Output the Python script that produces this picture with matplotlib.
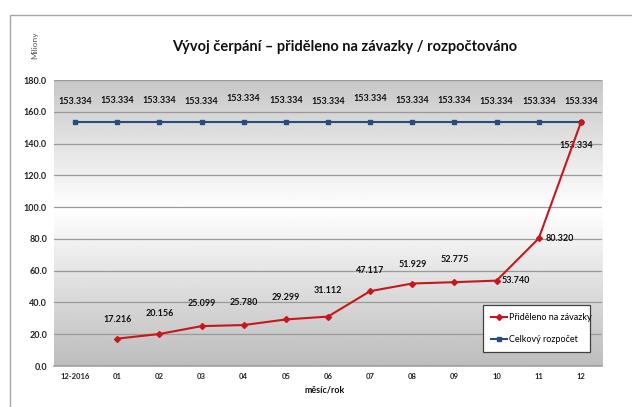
import numpy as np
import matplotlib.pyplot as plt
from matplotlib.patches import Rectangle

# data
months = ['12-2016', '01', '02', '03', '04', '05', '06', '07', '08', '09', '10', '11', '12']
prideleno = [None, 17.216, 20.156, 25.099, 25.780, 29.299, 31.112, 47.117, 51.929, 52.775, 53.740, 80.320, 153.334]
rozpocet = [153.334] * 13
y_ticks = [0, 20, 40, 60, 80, 100, 120, 140, 160, 180]

red = '#c8161d'
blue = '#264d7c'
plt.rcParams['font.family'] = ['Lato', 'DejaVu Sans']

fig = plt.figure(figsize=(6.32, 4.07), dpi=100)
ax = fig.add_axes([0.0854, 0.1007, 0.8671, 0.7027])

# outer chart frame
fig.patches.append(Rectangle((10 / 632, -0.01), 0.99, 1 - 15 / 407 + 0.01, transform=fig.transFigure,
                             fill=False, edgecolor='#a6a6a6', linewidth=1.0))

# gradient background: gray top, white middle, gray bottom
t = np.linspace(0, 1, 256)
shade = np.where(t < 0.55, 0.74 + 0.26 * (t / 0.55), 1.0 - 0.22 * ((t - 0.55) / 0.45))
grad = np.tile(shade[:, None], (1, 2))
ax.imshow(grad, cmap='gray', vmin=0, vmax=1, aspect='auto', extent=[0, 1, 0, 1],
          transform=ax.transAxes, origin='lower', zorder=0)

x = np.arange(len(months))
ax.set_xlim(-0.5, len(months) - 0.5)
ax.set_ylim(0, 180)
ax.set_yticks(y_ticks)
ax.set_yticklabels([f'{v:.1f}' for v in y_ticks], fontsize=6.5, fontweight='bold', color='#222222')
ax.set_xticks(x)
ax.set_xticklabels(months, fontsize=5.5, fontweight='bold', color='#222222')
ax.tick_params(axis='both', length=0, pad=5)
ax.grid(axis='y', color='#9a9a9a', linewidth=0.9)
ax.set_axisbelow(True)
for s in ['top', 'right', 'left']:
    ax.spines[s].set_visible(False)
ax.spines['bottom'].set_color('#a0a0a0')
ax.spines['bottom'].set_linewidth(1.2)

px = [i for i, v in enumerate(prideleno) if v is not None]
pv = [v for v in prideleno if v is not None]
ax.plot(x, rozpocet, color=blue, linewidth=1.5, marker='s', markersize=3.5, zorder=3,
        label='Celkový rozpočet')
ax.plot(px, pv, color=red, linewidth=1.5, marker='D', markersize=3, zorder=4,
        label='Přiděleno na závazky')

# data labels
blue_off = [15, 16, 16, 15, 17, 16, 15, 17, 16, 16, 15, 15, 15]
for i, v in enumerate(rozpocet):
    ax.annotate(f'{v:.3f}', (x[i], v), xytext=(0, blue_off[i]), textcoords='offset points',
                ha='center', va='center', fontsize=6.5, fontweight='bold', color='#111111')

red_off = {1: (0, 14), 2: (0, 15), 3: (0, 16), 4: (0, 16.5), 5: (0, 16), 6: (0, 19), 7: (0, 15),
           8: (0, 14), 9: (0, 16), 10: (14, 0), 11: (15, 0), 12: (-3.5, -17)}
for i, v in zip(px, pv):
    ax.annotate(f'{v:.3f}', (i, v), xytext=red_off[i], textcoords='offset points',
                ha='center', va='center', fontsize=6.5, fontweight='bold', color='#111111')

handles, labels = ax.get_legend_handles_labels()
leg = ax.legend(handles[::-1], labels[::-1], loc='lower left', bbox_to_anchor=(0.783, 0.049, 0.195, 0.161),
                mode='expand', fontsize=6.5, fancybox=False, edgecolor='#404040', framealpha=1,
                handlelength=1.8, handletextpad=0.2, labelspacing=1.4, borderpad=0.9, borderaxespad=0)
leg.get_frame().set_linewidth(0.9)

fig.text(345 / 632, 1 - 47 / 407, 'Vývoj čerpání – přiděleno na závazky / rozpočtováno',
         ha='center', va='center', fontsize=10.5, fontweight='bold', color='#111111')
fig.text(35 / 632, 1 - 45 / 407, 'Miliony', rotation=90, ha='center', va='center',
         fontsize=6, color='#555555')
fig.text(325 / 632, 1 - 390 / 407, 'měsíc/rok', ha='center', va='center',
         fontsize=6.5, fontweight='bold', color='#111111')

fig.savefig('out.png', dpi=100)
